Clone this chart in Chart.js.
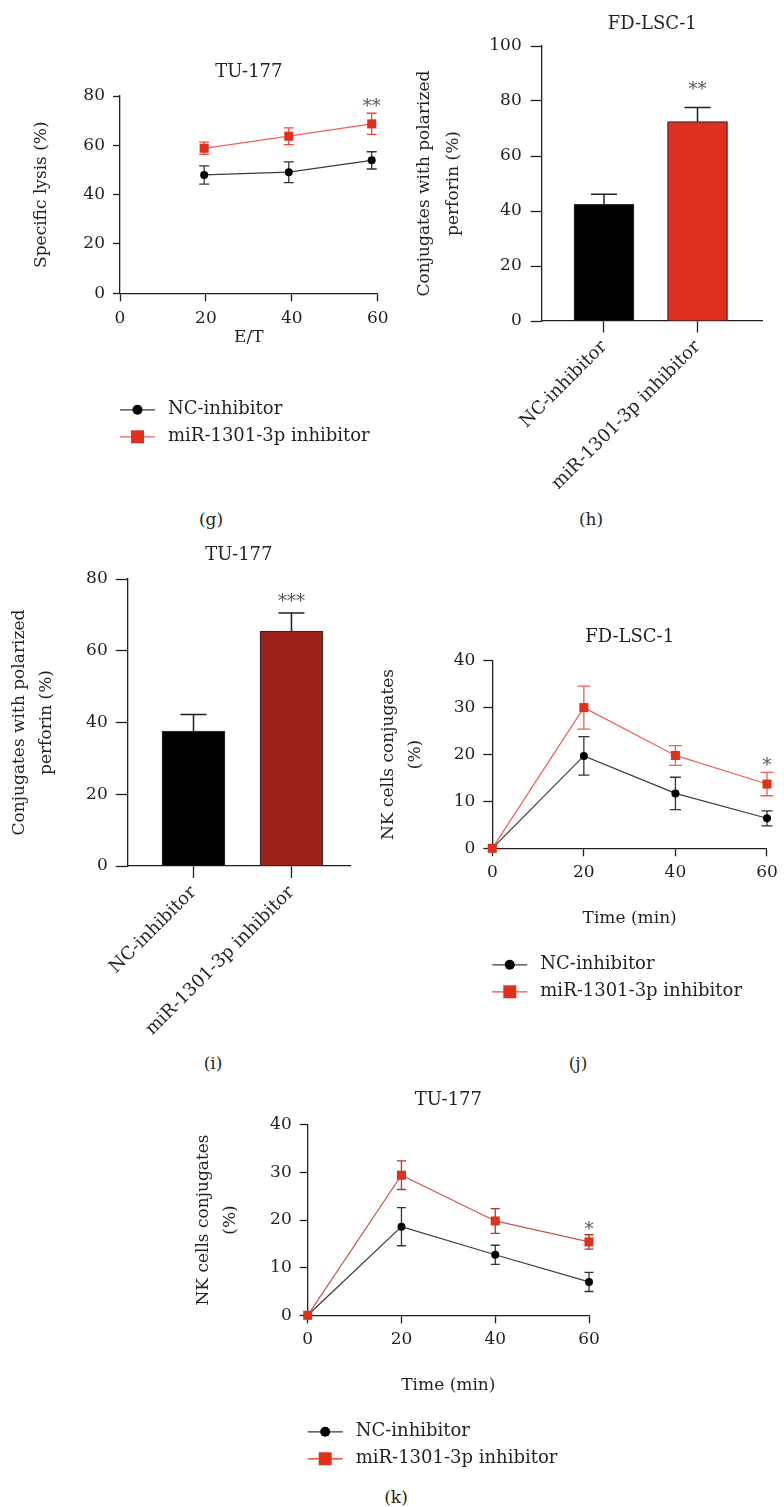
<!DOCTYPE html>
<html>
<head>
<meta charset="utf-8">
<script src="https://cdn.jsdelivr.net/npm/chart.js@4.4.1/dist/chart.umd.min.js"></script>
<style>
html,body{margin:0;padding:0;background:#fff;}
#page{position:relative;width:784px;height:1507px;overflow:hidden;background:#fff;}
canvas{position:absolute;}
.plabel{position:absolute;font-family:'DejaVu Serif';font-size:17px;color:#231f20;transform:translate(-50%,-50%);white-space:nowrap;}
</style>
</head>
<body>
<div id="page">
  <canvas id="cg" width="400" height="470" style="left:0px;top:0px;width:400px;height:470px"></canvas>
  <canvas id="ch" width="384" height="500" style="left:400px;top:0px;width:384px;height:500px"></canvas>
  <canvas id="ci" width="380" height="510" style="left:0px;top:530px;width:380px;height:510px"></canvas>
  <canvas id="cj" width="414" height="400" style="left:370px;top:620px;width:414px;height:400px"></canvas>
  <canvas id="ck" width="440" height="400" style="left:180px;top:1080px;width:440px;height:400px"></canvas>
  <div class="plabel" style="left:211px;top:519px">(g)</div>
  <div class="plabel" style="left:591px;top:519px">(h)</div>
  <div class="plabel" style="left:213px;top:1063px">(i)</div>
  <div class="plabel" style="left:578px;top:1063px">(j)</div>
  <div class="plabel" style="left:396px;top:1497px">(k)</div>
</div>
<script>
// ---------------- DATA ----------------
const seriesLabels = ['NC-inhibitor', 'miR-1301-3p inhibitor'];

// (g) TU-177 specific lysis vs E/T
const gEffTarget = [19.6, 39.3, 58.6];
const gNC = [48.0, 49.1, 53.9];
const gNCErr = [3.7, 4.2, 3.5];
const gMiR = [58.8, 63.7, 68.7];
const gMiRErr = [2.5, 3.4, 4.3];
const gSig = ['', '', '**'];

// (h) FD-LSC-1 conjugates with polarized perforin
const barCategories = ['NC-inhibitor', 'miR-1301-3p inhibitor'];
const hValues = [42.4, 72.5];
const hErr = [3.7, 5.1];
const hSig = ['', '**'];

// (i) TU-177 conjugates with polarized perforin
const iValues = [37.6, 65.5];
const iErr = [4.6, 5.0];
const iSig = ['', '***'];

// (j) FD-LSC-1 NK cell conjugates over time
const timeMin = [0, 20, 40, 60];
const jNC = [0, 19.7, 11.7, 6.4];
const jNCErr = [0, 4.1, 3.45, 1.6];
const jMiR = [0, 30.0, 19.8, 13.7];
const jMiRErr = [0, 4.6, 2.1, 2.5];
const jSig = ['', '', '', '*'];

// (k) TU-177 NK cell conjugates over time
const kNC = [0, 18.6, 12.7, 7.0];
const kNCErr = [0, 4.0, 2.0, 2.0];
const kMiR = [0, 29.4, 19.8, 15.4];
const kMiRErr = [0, 3.0, 2.6, 1.5];
const kSig = ['', '', '', '*'];

// ---------------- STYLE ----------------
const FONT = 'DejaVu Serif';
const INK = '#231f20';
Chart.defaults.font.family = FONT;
Chart.defaults.color = INK;

function yOf(d) { return (d !== null && typeof d === 'object') ? d.y : d; }

function drawErrors(chart, index, opts) {
  const ds = chart.data.datasets[index];
  if (!ds.errors) return;
  const meta = chart.getDatasetMeta(index);
  const ys = chart.scales[meta.yAxisID];
  const ctx = chart.ctx;
  ctx.save();
  ctx.strokeStyle = ds.errorColor || INK;
  ctx.lineWidth = opts.width || 1.3;
  const cap = (ds.errorCap || opts.cap || 10) / 2;
  meta.data.forEach((el, i) => {
    const e = ds.errors[i];
    if (!e) return;
    const v = yOf(ds.data[i]);
    const x = el.x;
    const yTop = ys.getPixelForValue(v + e);
    const yBot = opts.upOnly ? ys.getPixelForValue(v) : ys.getPixelForValue(v - e);
    ctx.beginPath();
    ctx.moveTo(x, yTop); ctx.lineTo(x, yBot);
    ctx.moveTo(x - cap, yTop); ctx.lineTo(x + cap, yTop);
    if (!opts.upOnly) { ctx.moveTo(x - cap, yBot); ctx.lineTo(x + cap, yBot); }
    ctx.stroke();
  });
  ctx.restore();
}

const errorBars = {
  id: 'errorBars',
  beforeDatasetDraw(chart, args, opts) { if (!opts.above) drawErrors(chart, args.index, opts); },
  afterDatasetDraw(chart, args, opts) { if (opts.above) drawErrors(chart, args.index, opts); }
};

const sigMarks = {
  id: 'sigMarks',
  afterDatasetsDraw(chart, args, opts) {
    const ctx = chart.ctx;
    chart.data.datasets.forEach((ds, di) => {
      if (!ds.sig) return;
      const meta = chart.getDatasetMeta(di);
      const ys = chart.scales[meta.yAxisID];
      meta.data.forEach((el, i) => {
        const s = ds.sig[i];
        if (!s) return;
        const top = yOf(ds.data[i]) + ((ds.errors && ds.errors[i]) || 0);
        const y = ys.getPixelForValue(top) - opts.gap + 4;
        ctx.save();
        ctx.font = '18px "' + FONT + '"';
        ctx.fillStyle = '#555';
        ctx.textAlign = 'center';
        ctx.textBaseline = 'middle';
        ctx.fillText(s, el.x, y);
        ctx.restore();
      });
    });
  }
};

const lineLegend = {
  id: 'lineLegend',
  afterDraw(chart, args, opts) {
    if (!opts.display) return;
    const ctx = chart.ctx, a = chart.chartArea;
    chart.data.datasets.forEach((ds, i) => {
      const y = a.bottom + opts.offsetY + i * opts.rowGap;
      const x0 = a.left, x1 = a.left + opts.lineLen, cx = (x0 + x1) / 2;
      ctx.save();
      ctx.strokeStyle = ds.legendLine || ds.borderColor;
      ctx.lineWidth = 1.3;
      ctx.beginPath(); ctx.moveTo(x0, y); ctx.lineTo(x1, y); ctx.stroke();
      ctx.fillStyle = ds.pointBackgroundColor;
      if (ds.pointStyle === 'rect') {
        ctx.fillRect(cx - 6.5, y - 6.5, 13, 13);
      } else {
        ctx.beginPath(); ctx.arc(cx, y, 5, 0, Math.PI * 2); ctx.fill();
      }
      ctx.fillStyle = INK;
      ctx.font = '18px "' + FONT + '"';
      ctx.textAlign = 'left';
      ctx.textBaseline = 'middle';
      ctx.fillText(ds.label, x0 + opts.textX, y);
      ctx.restore();
    });
  }
};

const common = {
  responsive: false,
  animation: false,
  devicePixelRatio: 1,
  events: []
};

function lineChart(id, c) {
  return new Chart(document.getElementById(id), {
    type: 'line',
    data: {
      datasets: [
        {
          label: seriesLabels[0],
          data: c.x.map((x, i) => ({x: x, y: c.nc[i]})),
          errors: c.ncErr,
          borderColor: '#3a3a3a', borderWidth: 1.2, tension: 0,
          pointStyle: 'circle', pointRadius: 4, pointBackgroundColor: '#000',
          pointBorderWidth: 0, errorColor: '#333', errorCap: c.capNC,
          clip: false, order: 1
        },
        {
          label: seriesLabels[1],
          data: c.x.map((x, i) => ({x: x, y: c.mir[i]})),
          errors: c.mirErr, sig: c.sig,
          borderColor: c.redLine, legendLine: c.redLegend, borderWidth: 1.2, tension: 0,
          pointStyle: 'rect', pointRadius: 6.4, pointBackgroundColor: '#E0301E',
          pointBorderWidth: 0, errorColor: c.redErr, errorCap: c.capMiR,
          clip: false, order: 0
        }
      ]
    },
    options: Object.assign({}, common, {
      layout: {padding: c.pad},
      scales: {
        x: {
          type: 'linear', min: 0, max: 60, bounds: 'data',
          ticks: {stepSize: 20, font: {size: 17}, padding: c.xTickPad, color: INK},
          grid: {drawOnChartArea: false, tickLength: c.xTickLen, color: INK, tickWidth: 1.3},
          border: {color: INK, width: 1.3},
          title: {display: true, text: c.xTitle, font: {size: 17, lineHeight: 1.6}, padding: 0, color: INK},
          afterFit: s => { s.height = c.xH; }
        },
        y: {
          min: 0, max: c.ymax,
          ticks: {stepSize: c.ystep, font: {size: 17}, padding: c.yTickPad, color: INK},
          grid: {drawOnChartArea: false, tickLength: c.yTickLen, color: INK, tickWidth: 1.3},
          border: {color: INK, width: 1.3},
          title: {display: true, text: c.yTitle, font: {size: 17, lineHeight: c.yLH}, padding: {top: c.yTitlePad, bottom: 0}, color: INK},
          afterFit: s => { s.width = c.yW; }
        }
      },
      plugins: {
        legend: {display: false},
        tooltip: {enabled: false},
        title: {display: true, text: c.title, fullSize: false, font: {size: 18, weight: 'normal', lineHeight: 1.2}, padding: {top: 0, bottom: c.titleGap}, color: INK},
        errorBars: {cap: 10, width: 1.3, above: false, upOnly: false},
        sigMarks: {gap: c.sigGap},
        lineLegend: {display: true, offsetY: 116.5, rowGap: 27, lineLen: 35, textX: 48}
      }
    }),
    plugins: [errorBars, sigMarks, lineLegend]
  });
}

function barChart(id, c) {
  return new Chart(document.getElementById(id), {
    type: 'bar',
    data: {
      datasets: [{
        label: c.title,
        data: barCategories.map((_, i) => ({x: i + 1, y: c.values[i]})),
        errors: c.err, sig: c.sig,
        backgroundColor: c.colors,
        borderColor: '#2a2a2a', borderWidth: 1.2,
        barThickness: c.barW,
        errorColor: INK, errorCap: c.cap
      }]
    },
    options: Object.assign({}, common, {
      layout: {padding: c.pad},
      scales: {
        x: {
          type: 'linear', min: c.xmin, max: c.xmax, bounds: 'data', offset: false,
          afterBuildTicks: s => { s.ticks = barCategories.map((_, i) => ({value: i + 1})); },
          ticks: {
            callback: v => barCategories[v - 1] || '',
            autoSkip: false, minRotation: 45, maxRotation: 45,
            font: {size: 18}, padding: 4, color: INK
          },
          grid: {drawOnChartArea: false, offset: false, tickLength: c.xTickLen, color: INK, tickWidth: 1.3},
          border: {color: INK, width: 1.3},
          afterFit: s => { s.height = c.xH; }
        },
        y: {
          min: 0, max: c.ymax,
          ticks: {stepSize: 20, font: {size: 17}, padding: c.yTickPad, color: INK},
          grid: {drawOnChartArea: false, tickLength: c.yTickLen, color: INK, tickWidth: 1.3},
          border: {color: INK, width: 1.3},
          title: {display: true, text: ['Conjugates with polarized', 'perforin (%)'], font: {size: 17, lineHeight: c.yLH}, padding: {top: c.yTitlePad, bottom: 0}, color: INK},
          afterFit: s => { s.width = c.yW; }
        }
      },
      plugins: {
        legend: {display: false},
        tooltip: {enabled: false},
        title: {display: true, text: c.title, fullSize: false, font: {size: 18, weight: 'normal', lineHeight: 1.2}, padding: {top: 0, bottom: c.titleGap}, color: INK},
        errorBars: {cap: 26, width: 1.5, above: true, upOnly: true},
        sigMarks: {gap: c.sigGap},
        lineLegend: {display: false}
      }
    }),
    plugins: [errorBars, sigMarks]
  });
}

// (g)
lineChart('cg', {
  x: gEffTarget, nc: gNC, ncErr: gNCErr, mir: gMiR, mirErr: gMiRErr, sig: gSig,
  redLine: '#F0605A', redLegend: '#F0605A', redErr: '#EB4C40', capNC: 10, capMiR: 10,
  title: 'TU-177', xTitle: 'E/T', yTitle: 'Specific lysis (%)', ymax: 80, ystep: 20,
  pad: {top: 61.2, left: 0, right: 22.3, bottom: 118.4},
  titleGap: 13.2, xH: 58.3, yW: 120, yTitlePad: 28.1, yLH: 1.6,
  xTickLen: 8, xTickPad: 6.8, yTickLen: 7, yTickPad: 8, sigGap: 10.4
});

// (h)
barChart('ch', {
  title: 'FD-LSC-1', values: hValues, err: hErr, sig: hSig,
  colors: ['#000000', '#DF2F1F'], barW: 60, cap: 26, ymax: 100,
  xmin: 0.3338, xmax: 2.6972,
  pad: {top: 13.2, left: 0, right: 21.3, bottom: 3},
  titleGap: 11.2, yW: 141.7, yTitlePad: 10.55, yLH: 1.7, xH: 176,
  xTickLen: 11.5, yTickLen: 11, yTickPad: 9, sigGap: 21.7
});

// (i)
barChart('ci', {
  title: 'TU-177', values: iValues, err: iErr, sig: iSig,
  colors: ['#000000', '#9C211B'], barW: 63, cap: 26, ymax: 80,
  xmin: 0.3285, xmax: 2.5971,
  pad: {top: 14.2, left: 0, right: 30, bottom: 3},
  titleGap: 13.2, yW: 127.7, yTitlePad: 6.65, yLH: 1.57, xH: 171,
  xTickLen: 12, yTickLen: 12, yTickPad: 8, sigGap: 14.7
});

// (j)
lineChart('cj', {
  x: timeMin, nc: jNC, ncErr: jNCErr, mir: jMiR, mirErr: jMiRErr, sig: jSig,
  redLine: '#F0605A', redLegend: '#EE5046', redErr: '#EE5E55', capNC: 11, capMiR: 13,
  title: 'FD-LSC-1', xTitle: 'Time (min)', yTitle: ['NK cells conjugates', '(%)'], ymax: 40, ystep: 10,
  pad: {top: 6.2, left: 0, right: 10.7, bottom: 87.4},
  titleGap: 12.9, xH: 84.3, yW: 122.3, yTitlePad: 5.2, yLH: 1.59,
  xTickLen: 8, xTickPad: 6.2, yTickLen: 9, yTickPad: 8, sigGap: 10.3
});

// (k)
lineChart('ck', {
  x: timeMin, nc: kNC, ncErr: kNCErr, mir: kMiR, mirErr: kMiRErr, sig: kSig,
  redLine: '#C8554F', redLegend: '#E0301E', redErr: '#B8322C', capNC: 9, capMiR: 9,
  title: 'TU-177', xTitle: 'Time (min)', yTitle: ['NK cells conjugates', '(%)'], ymax: 40, ystep: 10,
  pad: {top: 9.2, left: 0, right: 31, bottom: 80.4},
  titleGap: 13.9, xH: 84.3, yW: 127.7, yTitlePad: 10.65, yLH: 1.57,
  xTickLen: 8, xTickPad: 5.8, yTickLen: 8, yTickPad: 8, sigGap: 8.3
});
</script>
</body>
</html>
